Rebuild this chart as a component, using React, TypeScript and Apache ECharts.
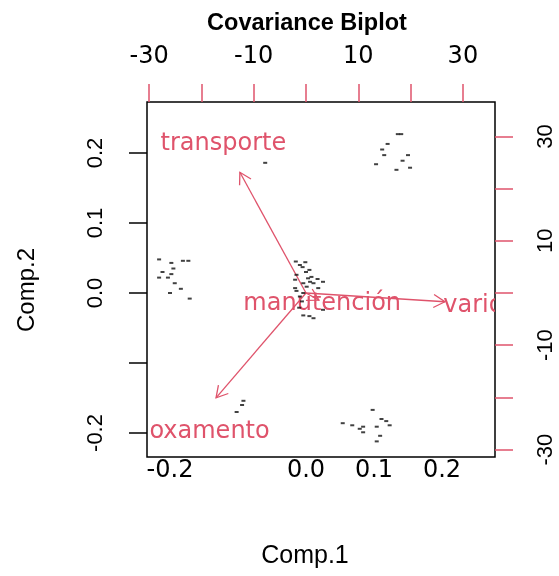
import React, { useEffect, useRef } from 'react';
import * as echarts from 'echarts';

// Observation scores (Comp.1, Comp.2)
const comp1Scores = [
  -0.216, -0.198, -0.181, -0.173, -0.195, -0.211, -0.198, -0.216, -0.203, -0.193, -0.184, -0.2, -0.171,
  0.135, 0.14, 0.12, 0.112, 0.115, 0.15, 0.142, 0.103, 0.153, 0.133,
  0.098, 0.111, 0.118, 0.123, 0.054, 0.068, 0.084, 0.079, 0.104, 0.084, 0.109, 0.104,
  -0.092, -0.094, -0.102,
  -0.06,
  -0.015, -0.009, -0.001, -0.005, 0.0, 0.005, -0.014, 0.003, 0.008, 0.017, 0.025, -0.016, 0.006, -0.004,
  0.011, 0.001, -0.016, 0.018, -0.014, -0.004, -0.009, -0.006, -0.01, -0.004, 0.005, 0.011, 0.025,
];
const comp2Scores = [
  0.048, 0.043, 0.046, 0.046, 0.035, 0.03, 0.027, 0.022, 0.022, 0.014, 0.006, 0.0, -0.008,
  0.227, 0.227, 0.213, 0.205, 0.197, 0.197, 0.189, 0.184, 0.179, 0.176,
  -0.167, -0.18, -0.183, -0.189, -0.186, -0.189, -0.191, -0.194, -0.191, -0.199, -0.204, -0.212,
  -0.154, -0.16, -0.17,
  0.186,
  0.045, 0.04, 0.044, 0.037, 0.03, 0.033, 0.026, 0.021, 0.023, 0.02, 0.016, 0.019, 0.016, 0.014,
  0.014, 0.009, 0.007, 0.007, 0.003, 0.0, -0.005, -0.012, -0.021, -0.032, -0.033, -0.036, -0.024,
];

// Variable loadings (label positions; arrows drawn to 0.8 of them, as biplot does)
const varNames = ['transporte', 'oxamento', 'manutención', 'varios'];
const loadX = [-15.8, -21.5, 3.1, 33.2];
const loadY = [28.9, -25.1, -1.7, -2.1];

// Ticks and labels
const compTicks = [-0.2, -0.1, 0, 0.1, 0.2];
const compBottomLabels = [-0.2, 0, 0.1, 0.2];
const compLeftLabels = [-0.2, 0, 0.1, 0.2];
const loadTicks = [-30, -20, -10, 0, 10, 20, 30];
const loadLabels = [-30, -10, 10, 30];

const RED = '#DF536B';
const labelNudge: Record<string, [number, number]> = { oxamento: [16, 6] };

export default function App() {
  const ref = useRef<HTMLDivElement>(null);
  useEffect(() => {
    if (!ref.current) return;
    const chart = echarts.init(ref.current, undefined, { renderer: 'svg' });
    const tickFont = { fontFamily: 'DejaVu Sans', fontSize: 24, color: '#000' };
    const vertFont = { fontFamily: 'Liberation Sans', fontSize: 22, color: '#000' };
    const option: any = {
      animation: false,
      title: {
        text: 'Covariance Biplot',
        left: 302,
        top: 5,
        textAlign: 'center',
        textStyle: { fontFamily: 'Liberation Sans', fontWeight: 'bold', fontSize: 23.5, color: '#000' },
      },
      grid: {
        left: 147, top: 102, width: 348, height: 355,
        show: true, borderColor: '#000', borderWidth: 1.5, backgroundColor: 'transparent',
      },
      xAxis: [
        {
          type: 'value', position: 'bottom', min: -0.2338, max: 0.2779,
          axisLine: { show: false, onZero: false }, splitLine: { show: false },
          axisTick: { show: false, customValues: compTicks },
          axisLabel: { ...tickFont, customValues: compBottomLabels, margin: 0, formatter: (v: number) => v.toFixed(1) },
          name: 'Comp.1', nameLocation: 'middle', nameGap: 84,
          nameTextStyle: { fontFamily: 'Liberation Sans', fontSize: 25, color: '#000', padding: [0, 32, 0, 0] },
        },
        {
          type: 'value', position: 'top', min: -30.4, max: 36.14,
          axisLine: { show: false, onZero: false }, splitLine: { show: false },
          axisTick: { show: true, length: 18, lineStyle: { color: RED, width: 1.5 }, customValues: loadTicks },
          axisLabel: { ...tickFont, customValues: loadLabels, margin: 35, formatter: (v: number) => String(v) },
        },
      ],
      yAxis: [
        {
          type: 'value', position: 'left', min: -0.2343, max: 0.2729,
          axisLine: { show: false, onZero: false }, splitLine: { show: false },
          axisTick: { show: true, length: 18, lineStyle: { color: '#000', width: 1.5 }, customValues: compTicks },
          axisLabel: { ...vertFont, rotate: 90, customValues: compLeftLabels, margin: 42, formatter: (v: number) => v.toFixed(1) },
          name: 'Comp.2', nameLocation: 'middle', nameGap: 110,
          nameTextStyle: { fontFamily: 'Liberation Sans', fontSize: 24, color: '#000', padding: [0, 21, 0, 0] },
        },
        {
          type: 'value', position: 'right', min: -31.42, max: 36.59,
          axisLine: { show: false, onZero: false }, splitLine: { show: false },
          axisTick: { show: true, length: 18, lineStyle: { color: RED, width: 1.5 }, customValues: loadTicks },
          axisLabel: { ...vertFont, rotate: 90, customValues: loadLabels, margin: 38, formatter: (v: number) => String(v) },
        },
      ],
      series: [
        {
          type: 'scatter', xAxisIndex: 0, yAxisIndex: 0, clip: true,
          symbol: 'rect', symbolSize: [4, 2],
          itemStyle: { color: '#111' },
          data: comp1Scores.map((x, i) => [x, comp2Scores[i]]),
        },
        {
          type: 'custom', xAxisIndex: 1, yAxisIndex: 1, clip: true,
          data: varNames.map((n, i) => [loadX[i], loadY[i]]),
          renderItem: (params: any, api: any) => {
            const lx = api.value(0) as number;
            const ly = api.value(1) as number;
            const name = varNames[params.dataIndex];
            const o = api.coord([0, 0]);
            const tip = api.coord([lx * 0.8, ly * 0.8]);
            const lab = api.coord([lx, ly]);
            const dx = tip[0] - o[0], dy = tip[1] - o[1];
            const len = Math.hypot(dx, dy) || 1;
            const ux = dx / len, uy = dy / len;
            const L = 13, a = Math.PI / 6;
            const c = Math.cos(a), s = Math.sin(a);
            const h1 = [tip[0] - L * (ux * c - uy * s), tip[1] - L * (uy * c + ux * s)];
            const h2 = [tip[0] - L * (ux * c + uy * s), tip[1] - L * (uy * c - ux * s)];
            const nudge = labelNudge[name] || [0, 0];
            return {
              type: 'group',
              children: [
                { type: 'line', shape: { x1: o[0], y1: o[1], x2: tip[0], y2: tip[1] }, style: { stroke: RED, lineWidth: 1.3 } },
                { type: 'polyline', shape: { points: [h1, tip, h2] }, style: { stroke: RED, lineWidth: 1.3, fill: null } },
                {
                  type: 'text', x: lab[0] + nudge[0], y: lab[1] + nudge[1],
                  style: { text: name, fill: RED, fontFamily: 'DejaVu Sans', fontSize: 24, align: 'center', verticalAlign: 'middle' },
                },
              ],
            };
          },
        },
      ],
    };
    chart.setOption(option);
    return () => chart.dispose();
  }, []);
  return <div ref={ref} style={{ position: 'fixed', left: 0, top: 0, width: 559, height: 576 }} />;
}
